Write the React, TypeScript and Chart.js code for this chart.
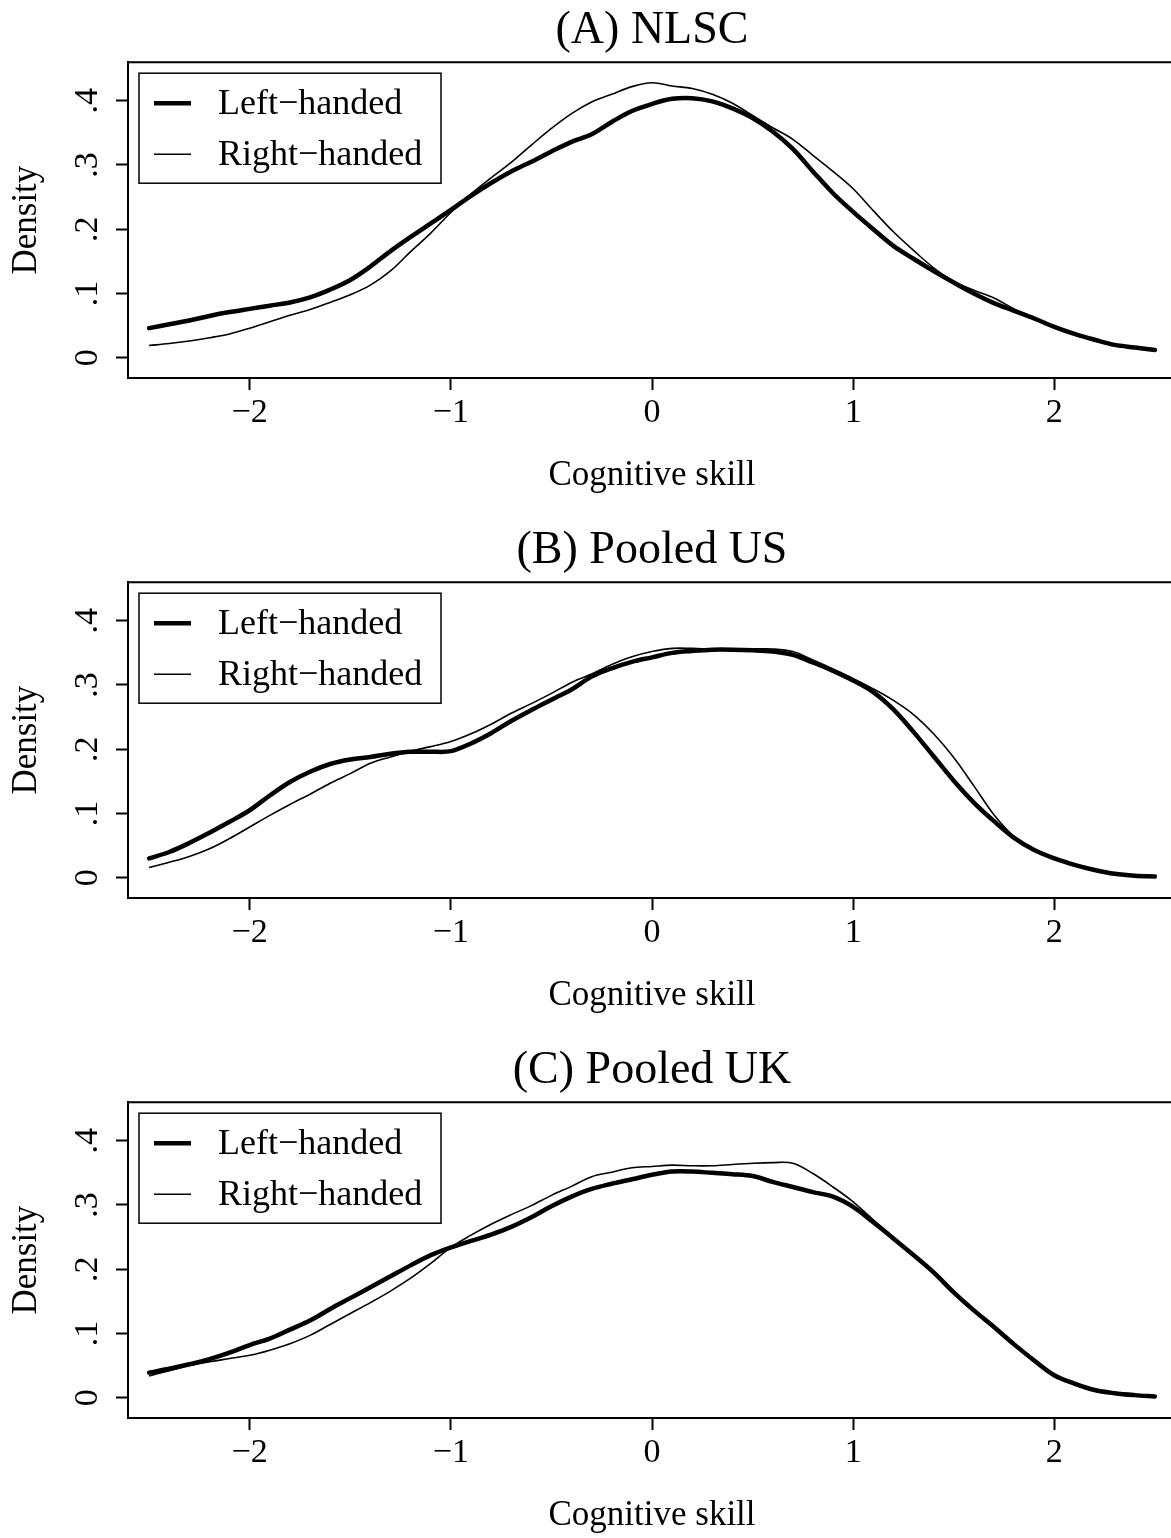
import React, { useEffect, useRef } from "react";
import { Chart, registerables } from "chart.js";

Chart.register(...registerables);

const FONT = "'Liberation Serif', 'Times New Roman', serif";

// Cognitive skill grid (-2.5 .. 2.5 step 0.1)
const skill = [
  -2.5, -2.4, -2.3, -2.2, -2.1, -2.0, -1.9, -1.8, -1.7, -1.6, -1.5, -1.4, -1.3, -1.2, -1.1, -1.0, -0.9,
  -0.8, -0.7, -0.6, -0.5, -0.4, -0.3, -0.2, -0.1, 0.0, 0.1, 0.2, 0.3, 0.4, 0.5, 0.6, 0.7, 0.8, 0.9, 1.0,
  1.1, 1.2, 1.3, 1.4, 1.5, 1.6, 1.7, 1.8, 1.9, 2.0, 2.1, 2.2, 2.3, 2.4, 2.5,
];

// (A) NLSC
const nlscLeft = [
  0.046, 0.052, 0.058, 0.065, 0.071, 0.076, 0.081, 0.086, 0.094, 0.106, 0.121, 0.142, 0.166, 0.188, 0.209,
  0.230, 0.252, 0.272, 0.290, 0.305, 0.321, 0.336, 0.348, 0.367, 0.384, 0.395, 0.403, 0.404, 0.399, 0.388,
  0.373, 0.352, 0.325, 0.290, 0.256, 0.227, 0.200, 0.174, 0.154, 0.135, 0.117, 0.100, 0.085, 0.073, 0.061,
  0.048, 0.037, 0.028, 0.020, 0.016, 0.012,
];
const nlscRight = [
  0.019, 0.022, 0.026, 0.031, 0.037, 0.046, 0.056, 0.066, 0.075, 0.086, 0.098, 0.113, 0.135, 0.165, 0.194,
  0.226, 0.255, 0.280, 0.304, 0.331, 0.357, 0.380, 0.398, 0.410, 0.422, 0.428, 0.423, 0.419, 0.410, 0.396,
  0.377, 0.358, 0.340, 0.315, 0.290, 0.263, 0.229, 0.196, 0.167, 0.140, 0.119, 0.105, 0.093, 0.076, 0.061,
  0.049, 0.038, 0.029, 0.021, 0.016, 0.012,
];

// (B) Pooled US
const usLeft = [
  0.030, 0.040, 0.054, 0.070, 0.087, 0.105, 0.128, 0.149, 0.165, 0.177, 0.184, 0.188, 0.193, 0.196, 0.196,
  0.197, 0.209, 0.225, 0.244, 0.261, 0.277, 0.293, 0.313, 0.326, 0.336, 0.343, 0.350, 0.353, 0.355, 0.355,
  0.354, 0.352, 0.347, 0.335, 0.322, 0.307, 0.289, 0.262, 0.227, 0.189, 0.151, 0.117, 0.088, 0.062, 0.043,
  0.030, 0.020, 0.012, 0.006, 0.003, 0.002,
];
const usRight = [
  0.016, 0.024, 0.033, 0.045, 0.061, 0.079, 0.097, 0.114, 0.130, 0.147, 0.162, 0.178, 0.188, 0.197, 0.204,
  0.212, 0.224, 0.239, 0.256, 0.271, 0.287, 0.304, 0.317, 0.332, 0.344, 0.352, 0.357, 0.357, 0.356, 0.356,
  0.356, 0.356, 0.352, 0.339, 0.325, 0.310, 0.294, 0.276, 0.254, 0.224, 0.187, 0.143, 0.098, 0.064, 0.043,
  0.030, 0.020, 0.012, 0.006, 0.003, 0.002,
];

// (C) Pooled UK
const ukLeft = [
  0.039, 0.045, 0.052, 0.060, 0.070, 0.082, 0.092, 0.106, 0.120, 0.138, 0.155, 0.172, 0.189, 0.206, 0.222,
  0.234, 0.244, 0.254, 0.266, 0.281, 0.298, 0.313, 0.325, 0.333, 0.340, 0.347, 0.352, 0.352, 0.350, 0.348,
  0.345, 0.336, 0.328, 0.320, 0.313, 0.297, 0.273, 0.248, 0.222, 0.195, 0.164, 0.136, 0.110, 0.083, 0.058,
  0.035, 0.022, 0.012, 0.007, 0.004, 0.002,
];
const ukRight = [
  0.034, 0.042, 0.050, 0.056, 0.061, 0.066, 0.074, 0.084, 0.097, 0.114, 0.131, 0.148, 0.166, 0.186, 0.209,
  0.234, 0.253, 0.270, 0.285, 0.299, 0.315, 0.329, 0.344, 0.351, 0.358, 0.360, 0.362, 0.361, 0.361, 0.363,
  0.365, 0.366, 0.365, 0.349, 0.328, 0.305, 0.277, 0.250, 0.223, 0.195, 0.164, 0.136, 0.110, 0.083, 0.058,
  0.035, 0.022, 0.012, 0.007, 0.004, 0.002,
];

const panelTitles = ["(A) NLSC", "(B) Pooled US", "(C) Pooled UK"];
const seriesLabels = ["Left\u2212handed", "Right\u2212handed"];
const xTicks = [-2, -1, 0, 1, 2];
const yTicks = [0, 0.1, 0.2, 0.3, 0.4];
const xTitle = "Cognitive skill";
const yTitle = "Density";

const panels = [
  { title: panelTitles[0], left: nlscLeft, right: nlscRight },
  { title: panelTitles[1], left: usLeft, right: usRight },
  { title: panelTitles[2], left: ukLeft, right: ukRight },
];

const CANVAS_W = 1180;
const CANVAS_H = 520;

const framePlugin = {
  id: "topFrame",
  afterDraw(chart: any) {
    const { ctx, chartArea } = chart;
    ctx.save();
    ctx.strokeStyle = "#000";
    ctx.lineWidth = 2;
    ctx.beginPath();
    ctx.moveTo(chartArea.left - 1, chartArea.top);
    ctx.lineTo(chartArea.right, chartArea.top);
    ctx.lineTo(chartArea.right, chartArea.bottom);
    ctx.stroke();
    ctx.restore();
  },
};

const legendPlugin = {
  id: "boxLegend",
  afterDatasetsDraw(chart: any) {
    const { ctx, chartArea } = chart;
    const x0 = chartArea.left + 11;
    const y0 = chartArea.top + 11;
    const w = 302;
    const h = 110;
    ctx.save();
    ctx.fillStyle = "#fff";
    ctx.fillRect(x0, y0, w, h);
    ctx.strokeStyle = "#000";
    ctx.lineWidth = 1.5;
    ctx.strokeRect(x0, y0, w, h);
    chart.data.datasets.forEach((ds: any, i: number) => {
      const cy = y0 + 30 + i * 51;
      ctx.beginPath();
      ctx.lineWidth = ds.borderWidth;
      ctx.moveTo(x0 + 15, cy);
      ctx.lineTo(x0 + 52, cy);
      ctx.stroke();
      ctx.font = `36px ${FONT}`;
      ctx.textBaseline = "middle";
      ctx.textAlign = "left";
      ctx.fillStyle = "#000";
      ctx.fillText(ds.label, x0 + 79, cy + 1);
    });
    ctx.restore();
  },
};

function fmtY(v: number) {
  if (Math.abs(v) < 1e-9) return "0";
  return "." + Math.round(v * 10);
}
function fmtX(v: number) {
  return v < 0 ? "\u2212" + Math.abs(v) : String(v);
}

function Panel({ title, left, right }: { title: string; left: number[]; right: number[] }) {
  const ref = useRef<HTMLCanvasElement>(null);
  useEffect(() => {
    const chart = new Chart(ref.current as HTMLCanvasElement, {
      type: "line",
      data: {
        datasets: [
          {
            label: seriesLabels[0],
            data: skill.map((x, i) => ({ x, y: left[i] })),
            borderColor: "#000",
            borderWidth: 4.5,
            tension: 0.35,
            pointRadius: 0,
            borderCapStyle: "round",
            fill: false,
          },
          {
            label: seriesLabels[1],
            data: skill.map((x, i) => ({ x, y: right[i] })),
            borderColor: "#000",
            borderWidth: 1.6,
            tension: 0.35,
            pointRadius: 0,
            fill: false,
          },
        ],
      },
      options: {
        animation: false,
        responsive: false,
        devicePixelRatio: 1,
        layout: { padding: { left: 0, right: 4, top: 0, bottom: 0 } },
        plugins: {
          legend: { display: false },
          tooltip: { enabled: false },
          title: {
            display: true,
            text: title,
            fullSize: false,
            color: "#000",
            font: { family: FONT, size: 46, weight: "normal", lineHeight: 1.2 },
            padding: { top: 3, bottom: 4 },
          },
        },
        scales: {
          x: {
            type: "linear",
            min: -2.605,
            max: 2.605,
            afterBuildTicks: (scale: any) => {
              scale.ticks = xTicks.map((v) => ({ value: v }));
            },
            afterFit: (scale: any) => {
              scale.height = CANVAS_H - 378;
            },
            ticks: {
              color: "#000",
              font: { family: FONT, size: 34 },
              padding: 3,
              maxRotation: 0,
              minRotation: 0,
              autoSkip: false,
              callback: (v: any) => fmtX(Number(v)),
            },
            grid: {
              display: true,
              drawOnChartArea: false,
              drawTicks: true,
              tickLength: 12,
              tickWidth: 2,
              tickColor: "#000",
            },
            border: { display: true, color: "#000", width: 2 },
            title: {
              display: true,
              text: xTitle,
              color: "#000",
              font: { family: FONT, size: 35, lineHeight: 1.2 },
              padding: { top: 0, bottom: 23 },
            },
          },
          y: {
            type: "linear",
            min: -0.0316,
            max: 0.46,
            afterBuildTicks: (scale: any) => {
              scale.ticks = yTicks.map((v) => ({ value: v }));
            },
            afterFit: (scale: any) => {
              scale.width = 128;
            },
            ticks: {
              color: "#000",
              font: { family: FONT, size: 34 },
              padding: 15,
              minRotation: 90,
              maxRotation: 90,
              crossAlign: "center",
              autoSkip: false,
              callback: (v: any) => fmtY(Number(v)),
            },
            grid: {
              display: true,
              drawOnChartArea: false,
              drawTicks: true,
              tickLength: 12,
              tickWidth: 2,
              tickColor: "#000",
            },
            border: { display: true, color: "#000", width: 2 },
            title: {
              display: true,
              text: yTitle,
              color: "#000",
              font: { family: FONT, size: 35, lineHeight: 1.2 },
              padding: { top: 6, bottom: 0 },
            },
          },
        },
      },
      plugins: [framePlugin, legendPlugin],
    } as any);
    return () => chart.destroy();
  }, [title, left, right]);
  return (
    <canvas
      ref={ref}
      width={CANVAS_W}
      height={CANVAS_H}
      style={{ display: "block", width: CANVAS_W, height: CANVAS_H }}
    />
  );
}

export default function App() {
  return (
    <div
      style={{
        position: "absolute",
        left: 0,
        top: 0,
        width: 1171,
        height: 1538,
        overflow: "hidden",
        background: "#fff",
      }}
    >
      {panels.map((p) => (
        <Panel key={p.title} title={p.title} left={p.left} right={p.right} />
      ))}
    </div>
  );
}
